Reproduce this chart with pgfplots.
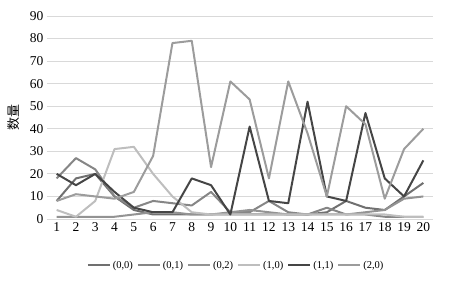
\documentclass[border=0pt]{standalone}
\usepackage{fontspec}
\setmainfont{Liberation Serif}
\newfontfamily\cjk{Noto Sans CJK SC}
\usepackage{pgfplots}
\pgfplotsset{compat=1.18}
\definecolor{cA}{HTML}{707070}
\definecolor{cB}{HTML}{868686}
\definecolor{cC}{HTML}{939393}
\definecolor{cD}{HTML}{BEBEBE}
\definecolor{cE}{HTML}{454545}
\definecolor{cF}{HTML}{9C9C9C}
\definecolor{gridc}{HTML}{D9D9D9}
\begin{document}
\begin{tikzpicture}
\begin{axis}[
  name=ax,
  scale only axis,
  width=386pt, height=203pt,
  xmin=0.5, xmax=20.5,
  ymin=0, ymax=90,
  xtick={1,...,20},
  ytick={0,10,...,90},
  ymajorgrids,
  major grid style={gridc, line width=0.9pt},
  axis line style={draw=none},
  major tick length=0pt,
  tick label style={font=\fontsize{13.5}{15}\selectfont},
  /pgf/number format/assume math mode=true,
  ylabel={\cjk 数量},
  ylabel style={font=\fontsize{13}{15}\selectfont, yshift=4pt},
  legend columns=6,
  legend style={draw=none, at={(0.49,-0.185)}, anchor=north, font=\fontsize{10.5}{12}\selectfont,
    /tikz/every even column/.append style={column sep=2pt}},
  legend image code/.code={\draw[#1, line width=2pt] (0pt,0pt) -- (22pt,0pt);},
  every axis plot/.append style={line width=2pt, mark=none, line join=round},
]
\addplot[cA] coordinates {(1,8)(2,18)(3,20)(4,10)(5,4)(6,2)(7,2)(8,2)(9,2)(10,2)(11,2)(12,2)(13,2)(14,2)(15,3)(16,8)(17,5)(18,4)(19,10)(20,16)};
\addplot[cB] coordinates {(1,18)(2,27)(3,22)(4,10)(5,5)(6,8)(7,7)(8,6)(9,12)(10,3)(11,3)(12,8)(13,3)(14,2)(15,5)(16,2)(17,2)(18,1)(19,1)(20,1)};
\addplot[cC] coordinates {(1,1)(2,1)(3,1)(4,1)(5,2)(6,3)(7,3)(8,2)(9,2)(10,3)(11,4)(12,3)(13,2)(14,2)(15,2)(16,2)(17,3)(18,4)(19,9)(20,10)};
\addplot[cD] coordinates {(1,4)(2,1)(3,8)(4,31)(5,32)(6,20)(7,10)(8,3)(9,2)(10,2)(11,2)(12,2)(13,2)(14,2)(15,2)(16,2)(17,2)(18,2)(19,1)(20,1)};
\addplot[cE] coordinates {(1,20)(2,15)(3,20)(4,12)(5,5)(6,3)(7,3)(8,18)(9,15)(10,2)(11,41)(12,8)(13,7)(14,52)(15,10)(16,8)(17,47)(18,18)(19,10)(20,26)};
\addplot[cF] coordinates {(1,8)(2,11)(3,10)(4,9)(5,12)(6,28)(7,78)(8,79)(9,23)(10,61)(11,53)(12,18)(13,61)(14,38)(15,10)(16,50)(17,42)(18,9)(19,31)(20,40)};
\legend{(0,0),(0,1),(0,2),(1,0),(1,1),(2,0)}
\end{axis}
\path ([xshift=-47pt,yshift=-66pt]ax.south west) rectangle ([xshift=17pt,yshift=16pt]ax.north east);
\end{tikzpicture}
\end{document}
